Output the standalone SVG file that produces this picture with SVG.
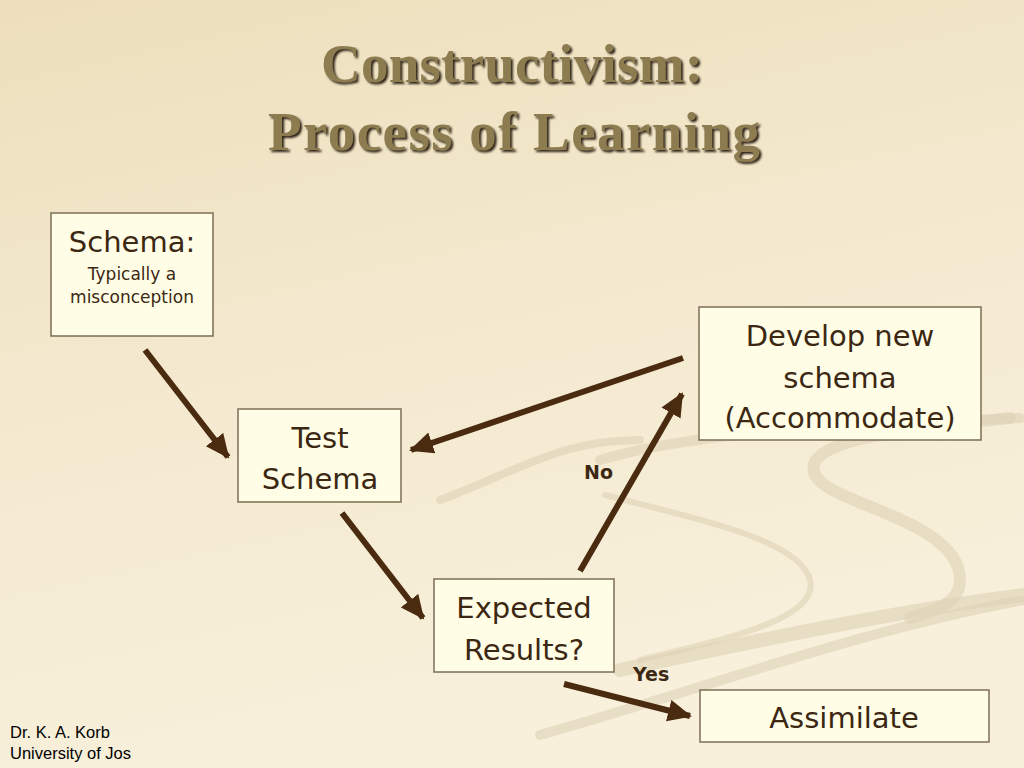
<svg xmlns="http://www.w3.org/2000/svg" width="1024" height="768" viewBox="0 0 1024 768">
  <defs>
    <linearGradient id="bg" x1="0" y1="0" x2="0.3" y2="1">
      <stop offset="0" stop-color="#eddfbc"/>
      <stop offset="0.5" stop-color="#f4e9cf"/>
      <stop offset="1" stop-color="#f8f0db"/>
    </linearGradient>
    <filter id="shadow" x="-5%" y="-10%" width="110%" height="130%">
      <feGaussianBlur stdDeviation="1"/>
    </filter>
    <marker id="arrow" markerUnits="userSpaceOnUse" markerWidth="26" markerHeight="24" refX="22" refY="12" orient="auto">
      <path d="M0,1 L24,12 L0,23 Z" fill="#4b2b10"/>
    </marker>
    <style>
      .box { fill: #fffde6; stroke: #7d6d55; stroke-width: 1.5; }
      .lbl { font-family: "DejaVu Sans", Verdana, sans-serif; fill: #3c2812; text-anchor: middle; }
      .big { font-size: 29px; }
      .small { font-size: 17px; }
      .edge { font-family: "DejaVu Sans", Verdana, sans-serif; font-weight: bold; font-size: 19px; fill: #3c2812; }
      .conn { stroke: #4b2b10; stroke-width: 6; fill: none; marker-end: url(#arrow); }
      .title { font-family: "Liberation Serif", "Times New Roman", serif; font-weight: bold; font-size: 55px; text-anchor: middle; }
      .swoosh { fill: none; stroke: #ddd2b6; stroke-linecap: round; opacity: 0.6; }
      .foot { font-family: "Liberation Sans", Arial, sans-serif; font-size: 16.5px; fill: #000; }
    </style>
  </defs>

  <rect x="0" y="0" width="1024" height="768" fill="url(#bg)"/>

  <g id="background-swooshes">
    <path class="swoosh" stroke-width="10" d="M600,460 C700,430 850,425 1020,418"/>
    <path class="swoosh" stroke-width="12" d="M1010,418 C900,430 800,440 815,475 C830,505 960,520 960,580 C960,605 930,612 910,618"/>
    <path class="swoosh" stroke-width="6" d="M605,495 C700,520 800,540 810,580 C820,620 720,640 640,660"/>
    <path class="swoosh" stroke-width="14" d="M620,670 C760,640 900,610 1024,595"/>
    <path class="swoosh" stroke-width="10" d="M540,735 C700,690 860,630 1024,600"/>
    <path class="swoosh" stroke-width="8" d="M440,500 C520,470 560,440 640,440"/>
  </g>

  <g id="title">
    <text class="title" x="514" y="84" fill="#2e2416" filter="url(#shadow)" textLength="382" lengthAdjust="spacing">Constructivism:</text>
    <text class="title" x="516" y="152" fill="#2e2416" filter="url(#shadow)" textLength="492" lengthAdjust="spacing">Process of Learning</text>
    <text class="title" x="512" y="82" fill="#8c7c4f" textLength="382" lengthAdjust="spacing">Constructivism:</text>
    <text class="title" x="514" y="150" fill="#8c7c4f" textLength="492" lengthAdjust="spacing">Process of Learning</text>
  </g>

  <g id="connectors">
    <line class="conn" x1="145" y1="350" x2="228" y2="457"/>
    <line class="conn" x1="683" y1="358" x2="411" y2="450"/>
    <line class="conn" x1="342" y1="513" x2="423" y2="618"/>
    <line class="conn" x1="580" y1="571" x2="682" y2="394"/>
    <line class="conn" x1="564" y1="684" x2="690" y2="716"/>
    <text class="edge" x="584" y="479">No</text>
    <text class="edge" x="633" y="681">Yes</text>
  </g>

  <g id="node-schema">
    <rect class="box" x="51" y="213" width="162" height="123"/>
    <text class="lbl big" x="132" y="252">Schema:</text>
    <text class="lbl small" x="132" y="280">Typically a</text>
    <text class="lbl small" x="132" y="303">misconception</text>
  </g>

  <g id="node-test">
    <rect class="box" x="238" y="409" width="163" height="93"/>
    <text class="lbl big" x="320" y="448">Test</text>
    <text class="lbl big" x="320" y="489">Schema</text>
  </g>

  <g id="node-expected">
    <rect class="box" x="434" y="579" width="180" height="93"/>
    <text class="lbl big" x="524" y="618">Expected</text>
    <text class="lbl big" x="524" y="660">Results?</text>
  </g>

  <g id="node-develop">
    <rect class="box" x="699" y="307" width="282" height="133"/>
    <text class="lbl big" x="840" y="346">Develop new</text>
    <text class="lbl big" x="840" y="388">schema</text>
    <text class="lbl big" x="840" y="428">(Accommodate)</text>
  </g>

  <g id="node-assimilate">
    <rect class="box" x="700" y="690" width="289" height="52"/>
    <text class="lbl big" x="844" y="728">Assimilate</text>
  </g>

  <g id="footer">
    <text class="foot" x="10" y="738">Dr. K. A. Korb</text>
    <text class="foot" x="10" y="759">University of Jos</text>
  </g>
</svg>
